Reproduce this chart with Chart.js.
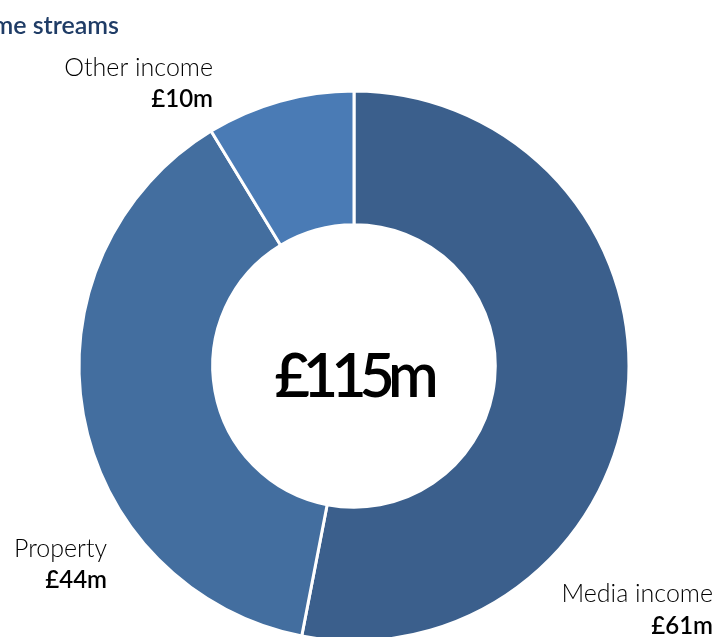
<!DOCTYPE html>
<html>
<head>
<meta charset="utf-8">
<script src="https://cdn.jsdelivr.net/npm/chart.js@4"></script>
<style>
  html, body { margin: 0; padding: 0; background: #fff; overflow: hidden; width: 718px; height: 637px; }
  #wrap { position: relative; width: 718px; height: 660px; }
  #title {
    position: absolute; left: -220px; width: 339px; top: 9px;
    text-align: right; font: 600 25px Lato, sans-serif; color: #1f3c66; white-space: nowrap;
  }
</style>
</head>
<body>
<div id="wrap">
  <canvas id="donut" width="718" height="660"></canvas>
  <div id="title">Income streams</div>
</div>
<script>
const streams = ['Media income', 'Property', 'Other income'];
const amounts = [61, 44, 10];
const valueLabels = ['£61m', '£44m', '£10m'];
const totalLabel = '£115m';
const sliceColours = ['#3b5f8c', '#436e9f', '#4a7bb5'];

// label anchors: right edge x, baseline of name, baseline of value
const labelSpots = [
	{ x: 713, y1: 602, y2: 634 },
	{ x: 107, y1: 557, y2: 588 },
	{ x: 213, y1: 76, y2: 107 },
];

const donutText = {
	id: 'donutText',
	afterDraw(chart) {
		const ctx = chart.ctx;
		const arc = chart.getDatasetMeta(0).data[0];
		ctx.save();
		ctx.fillStyle = '#000';
		ctx.textAlign = 'center';
		ctx.textBaseline = 'alphabetic';
		ctx.font = '600 61px Lato, sans-serif';
		ctx.letterSpacing = '-7px';
		ctx.fillText(totalLabel, arc.x - 1, arc.y + 31);
		ctx.letterSpacing = '0px';
		ctx.textAlign = 'right';
		streams.forEach((name, i) => {
			const s = labelSpots[i];
			ctx.font = '300 25px Lato, sans-serif';
			ctx.fillText(name, s.x, s.y1);
			ctx.font = '600 24px Lato, sans-serif';
			ctx.fillText(valueLabels[i], s.x, s.y2);
		});
		ctx.restore();
	}
};

new Chart(document.getElementById('donut'), {
	type: 'doughnut',
	data: {
		labels: streams,
		datasets: [{
			data: amounts,
			backgroundColor: sliceColours,
			borderColor: '#fff',
			borderWidth: 3,
		}]
	},
	options: {
		responsive: false,
		animation: false,
		radius: 275,
		cutout: 140,
		layout: { padding: { top: 92, left: 80, right: 90, bottom: 20 } },
		plugins: {
			legend: { display: false },
			tooltip: { enabled: false },
		},
	},
	plugins: [donutText],
});
</script>
</body>
</html>
